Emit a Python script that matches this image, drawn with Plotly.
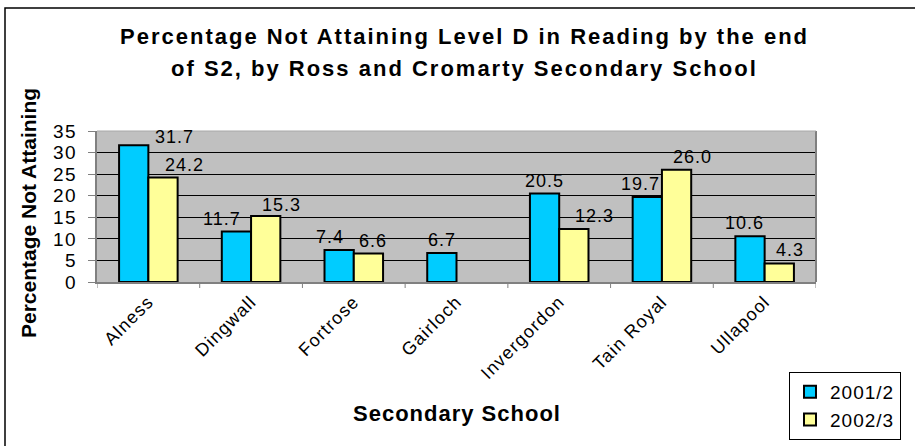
import plotly.graph_objects as go

schools = ["Alness", "Dingwall", "Fortrose", "Gairloch", "Invergordon", "Tain Royal", "Ullapool"]
y2001 = [31.7, 11.7, 7.4, 6.7, 20.5, 19.7, 10.6]
y2002 = [24.2, 15.3, 6.6, None, 12.3, 26.0, 4.3]
yticks = [0, 5, 10, 15, 20, 25, 30, 35]
series_names = ["2001/2", "2002/3"]

# label placement nudges (pixels) mimicking the original chart's label positions
nudge_x_2001 = [41, -14, -9, 0, 0, -7, -6]
nudge_x_2002 = [22, 16, 5, 0, 21, 16, 11]
nudge_y_2001 = [-4, 1, 1, 1, 1, 1, 1]
nudge_y_2002 = [1, -1, 1, 1, 1, 1, 1]

FONT = "Liberation Sans, Arial, sans-serif"
W, H = 915, 446
L, R, T, B = 97, 99, 131, 164
pw, ph = W - L - R, H - T - B
BARGAP = 0.43
half = (1 - BARGAP) / 4  # half of one bar width, in category units


def px(x):
    return (x - L) / pw


def py(y):
    return (H - B - y) / ph


def sp(s, ls):
    return f'<span style="letter-spacing:{ls}px">{s}</span>'


fig = go.Figure()
fig.add_trace(go.Bar(
    name=sp(series_names[0], 1), x=list(range(len(schools))), y=y2001,
    marker=dict(color="#00CCFF", line=dict(color="black", width=2)),
))
fig.add_trace(go.Bar(
    name=sp(series_names[1], 1), x=list(range(len(schools))), y=y2002,
    marker=dict(color="#FFFF99", line=dict(color="black", width=2)),
))

annotations = [
    dict(text="<b>" + sp("Percentage Not Attaining Level D in Reading by the end", 2) + "</b>",
         xref="paper", yref="paper", x=px(464), y=py(37), xanchor="center", yanchor="middle",
         showarrow=False, font=dict(family=FONT, size=22, color="black")),
    dict(text="<b>" + sp("of S2, by Ross and Cromarty Secondary School", 2) + "</b>",
         xref="paper", yref="paper", x=px(464), y=py(69), xanchor="center", yanchor="middle",
         showarrow=False, font=dict(family=FONT, size=22, color="black")),
    dict(text="<b>Percentage Not Attaining</b>", textangle=-90,
         xref="paper", yref="paper", x=px(28), y=py(213), xanchor="center", yanchor="middle",
         showarrow=False, font=dict(family=FONT, size=21, color="black")),
    dict(text="<b>" + sp("Secondary School", 1) + "</b>",
         xref="paper", yref="paper", x=px(457), y=py(413), xanchor="center", yanchor="middle",
         showarrow=False, font=dict(family=FONT, size=22, color="black")),
]

for vals, sign, nx, ny in [(y2001, -1, nudge_x_2001, nudge_y_2001), (y2002, 1, nudge_x_2002, nudge_y_2002)]:
    for i, v in enumerate(vals):
        if v is None:
            continue
        annotations.append(dict(
            text=sp(f"{v:.1f}", 1), x=i + sign * half, y=v, xref="x", yref="y",
            xanchor="center", yanchor="bottom", showarrow=False,
            xshift=nx[i], yshift=ny[i],
            font=dict(family=FONT, size=18, color="black"),
        ))

fig.update_layout(
    width=W, height=H,
    margin=dict(l=L, r=R, t=T, b=B, autoexpand=False),
    paper_bgcolor="white", plot_bgcolor="#C0C0C0",
    barmode="group", bargap=BARGAP, bargroupgap=0,
    font=dict(family=FONT, color="black"),
    showlegend=True,
    legend=dict(
        x=px(789), y=py(372), xanchor="left", yanchor="top",
        bgcolor="white", bordercolor="black", borderwidth=1,
        font=dict(family=FONT, size=19, color="black"),
        itemwidth=30,
    ),
    xaxis=dict(
        tickmode="array", tickvals=list(range(len(schools))),
        ticktext=[sp(s, 1.2) for s in schools],
        range=[-0.5, len(schools) - 0.5],
        tickangle=-45, tickfont=dict(family=FONT, size=18, color="black"),
        showline=True, linecolor="#808080", linewidth=2,
        ticks="", showgrid=False, zeroline=False,
    ),
    yaxis=dict(
        range=[0, 35], tickvals=yticks, ticktext=[sp(str(t), 1.5) for t in yticks],
        tickfont=dict(family=FONT, size=19, color="black"),
        showline=True, linecolor="#808080", linewidth=2,
        ticks="outside", ticklen=7, tickcolor="#808080", tickwidth=1,
        ticklabelstandoff=7,
        showgrid=True, gridcolor="black", gridwidth=1,
        zeroline=False,
    ),
    annotations=annotations,
    shapes=[
        dict(type="rect", xref="paper", yref="paper",
             x0=px(5), y0=py(8), x1=px(925), y1=py(455),
             line=dict(color="black", width=1.5), layer="below"),
        dict(type="line", xref="paper", yref="paper", x0=1, x1=1, y0=0, y1=1,
             line=dict(color="#808080", width=2)),
        dict(type="line", xref="paper", yref="paper", x0=0, x1=1, y0=1, y1=1,
             line=dict(color="#A8A8A8", width=1)),
    ] + [
        # category boundary tick marks below the x axis
        dict(type="line", xref="x", yref="paper", x0=b - 0.5, x1=b - 0.5, y0=0, y1=-6 / ph,
             line=dict(color="#808080", width=1))
        for b in range(len(schools) + 1)
    ],
)

fig.write_html("out.html", config={"displayModeBar": False},
               post_script="document.body.style.margin='0';")
